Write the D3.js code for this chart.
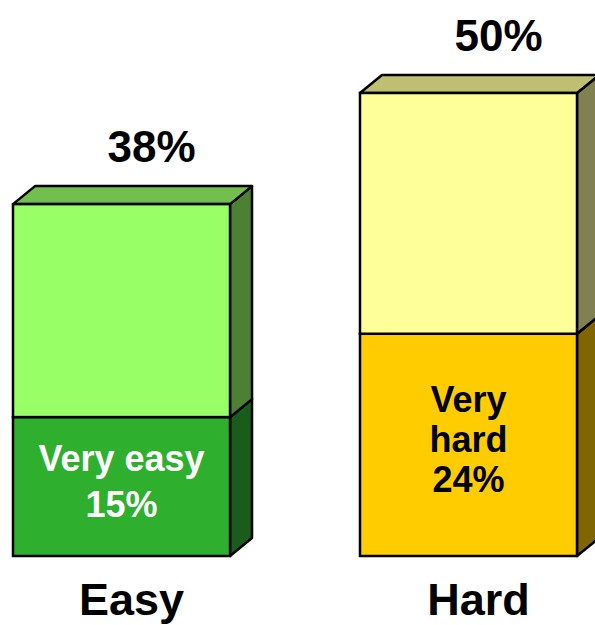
<!DOCTYPE html>
<html lang="en">
<head>
  <meta charset="UTF-8">
  <script src="https://cdn.jsdelivr.net/npm/d3@7"></script>
  <style>
    body { margin: 0; background: #fff; }
    text { font-family: "Liberation Sans", Arial, sans-serif; font-weight: bold; }
  </style>
</head>
<body>
<svg></svg>
<script>
  // data
  var categories = ["Easy", "Hard"];
  var veryValues = [15, 24];
  var totalValues = [38, 50];
  var veryLines = [["Very easy", "15%"], ["Very", "hard", "24%"]];
  var totalLabels = ["38%", "50%"];

  // colours: [front, top, side]
  var lowColors = [["#2eaf2e", "#249024", "#1a5c1a"], ["#ffcc00", "#c09a00", "#806600"]];
  var highColors = [["#99ff66", "#72bf4d", "#4c8033"], ["#ffff99", "#bfbf73", "#808050"]];
  var lowTextColor = ["#ffffff", "#000000"];

  var width = 595, height = 625;
  var dx = 22, dy = 18;

  var svg = d3.select("svg").attr("width", width).attr("height", height);

  var x = d3.scaleBand()
    .domain(categories)
    .range([13, 577])
    .paddingInner(0.3746)
    .paddingOuter(0);

  var y = d3.scaleLinear()
    .domain([0, 50])
    .range([556, 93]);

  var bw = x.bandwidth();

  function box(g, x0, y0, y1, cols) {
    // y0 = top of the segment, y1 = bottom
    var x1 = x0 + bw;
    g.append("polygon")
      .attr("points", [[x1, y0], [x1 + dx, y0 - dy], [x1 + dx, y1 - dy], [x1, y1]].join(" "))
      .attr("fill", cols[2]).attr("stroke", "#000").attr("stroke-width", 2.5)
      .attr("stroke-linejoin", "round");
    g.append("polygon")
      .attr("points", [[x0, y0], [x0 + dx, y0 - dy], [x1 + dx, y0 - dy], [x1, y0]].join(" "))
      .attr("fill", cols[1]).attr("stroke", "#000").attr("stroke-width", 2.5)
      .attr("stroke-linejoin", "round");
    g.append("rect")
      .attr("x", x0).attr("y", y0)
      .attr("width", bw).attr("height", y1 - y0)
      .attr("fill", cols[0]).attr("stroke", "#000").attr("stroke-width", 2.5);
  }

  categories.forEach(function(c, i) {
    var g = svg.append("g");
    var x0 = x(c);
    box(g, x0, y(veryValues[i]), y(0), lowColors[i]);
    box(g, x0, y(totalValues[i]), y(veryValues[i]), highColors[i]);

    var cx = x0 + bw / 2;

    // inner label
    var lines = veryLines[i];
    var mid = (y(veryValues[i]) + y(0)) / 2;
    var lh = lines.length > 2 ? 40 : 46;
    var t = g.append("text")
      .attr("text-anchor", "middle")
      .attr("fill", lowTextColor[i])
      .attr("font-size", 36);
    lines.forEach(function(l, k) {
      t.append("tspan")
        .attr("x", cx)
        .attr("y", mid + 7 + (k - (lines.length - 1) / 2) * lh)
        .text(l);
    });

    // total label above the bar
    g.append("text")
      .attr("x", cx + 30)
      .attr("y", y(totalValues[i]) - dy - 24)
      .attr("text-anchor", "middle")
      .attr("font-size", 44)
      .text(totalLabels[i]);
  });

  // category axis labels
  svg.append("g").selectAll("text")
    .data(categories)
    .enter().append("text")
    .attr("x", function(d) { return x(d) + bw / 2 + 10; })
    .attr("y", 615)
    .attr("text-anchor", "middle")
    .attr("font-size", 45)
    .text(function(d) { return d; });
</script>
</body>
</html>
